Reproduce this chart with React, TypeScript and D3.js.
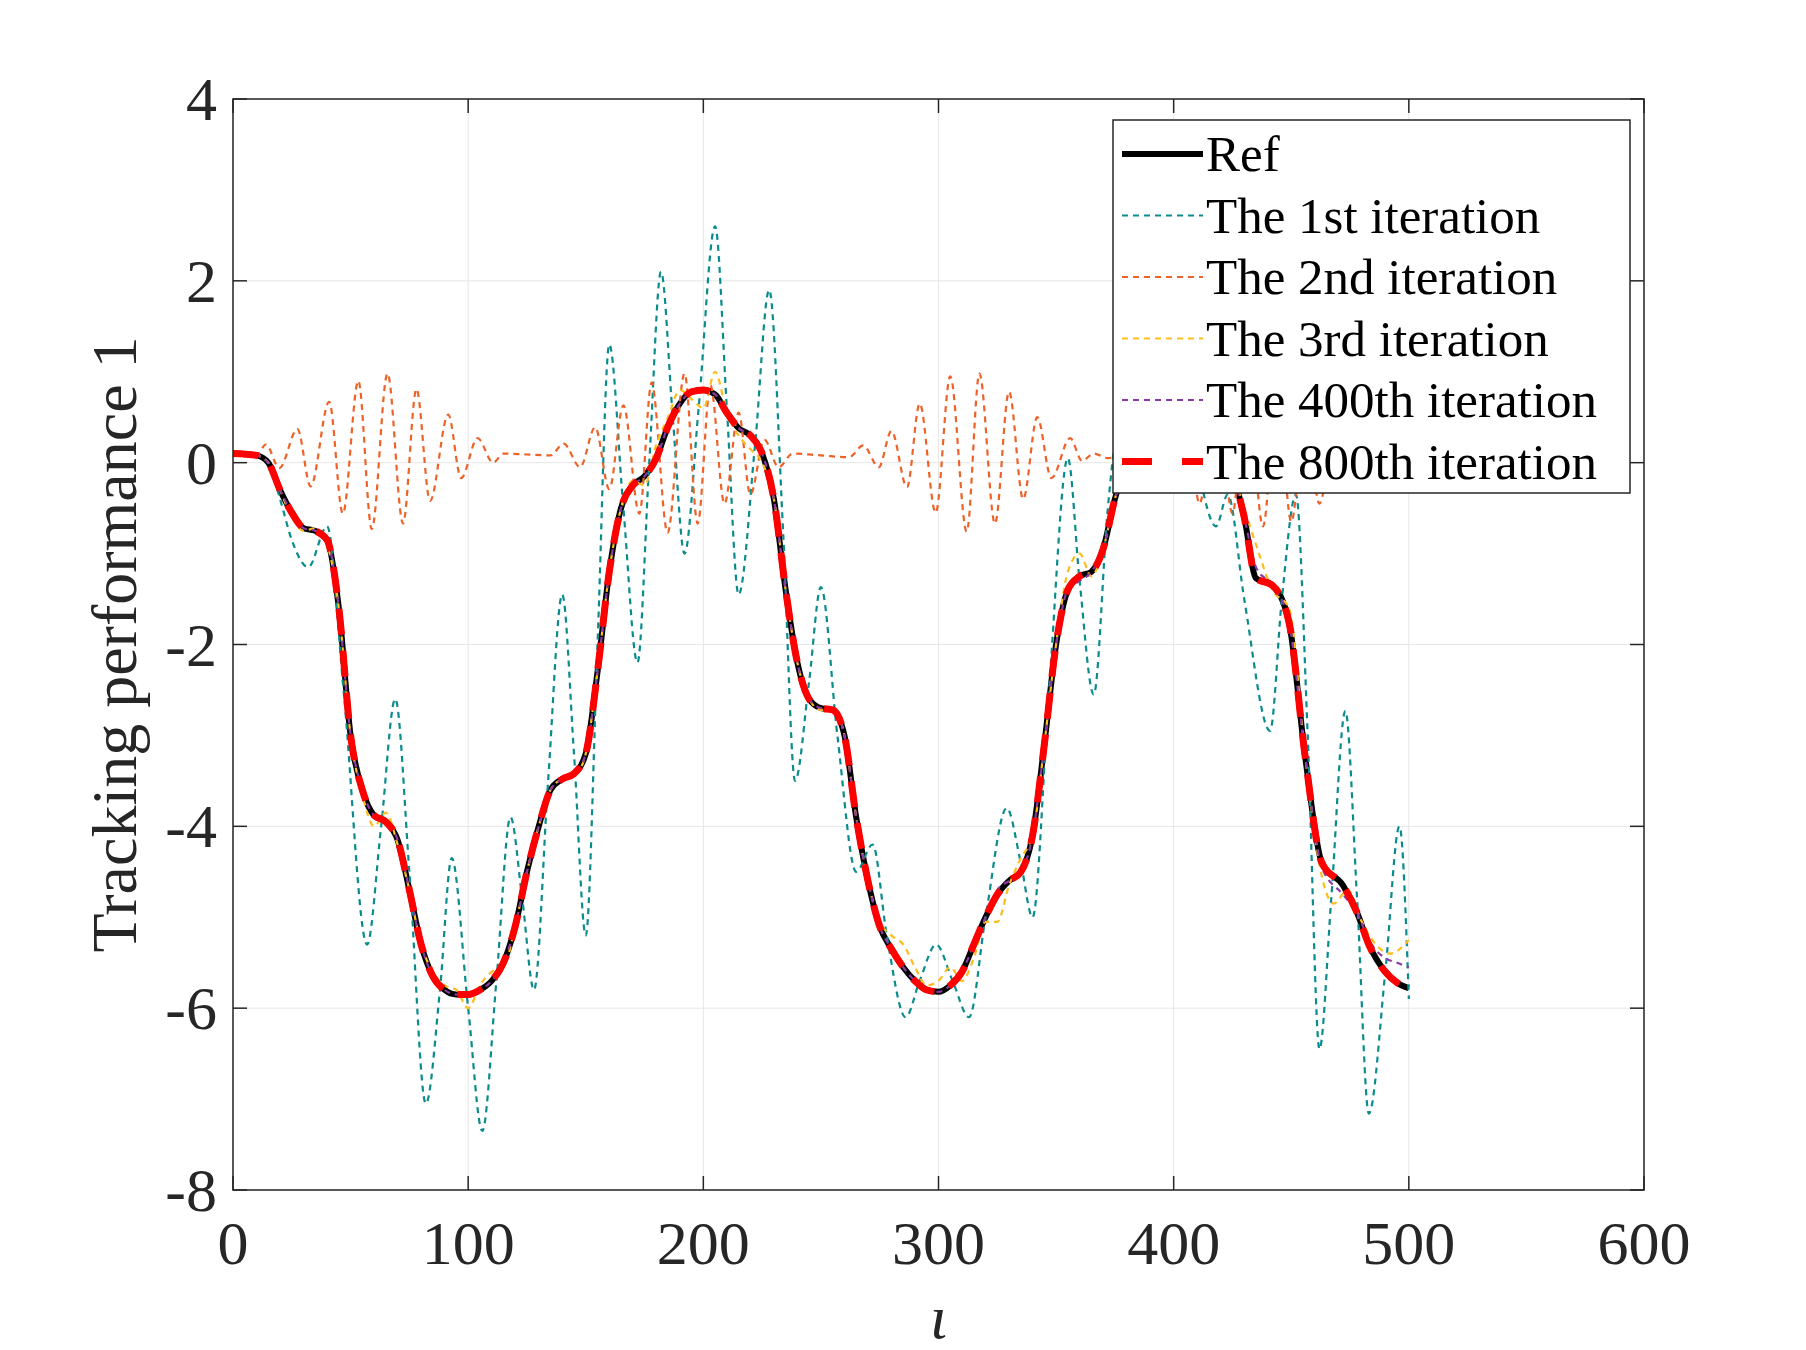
import React from "react";
import * as d3 from "d3";

type Pt = [number, number];

// reference trajectory
const refData: Pt[] = [
  [0, 0.1], [10, 0.08], [15, 0], [20, -0.3], [25, -0.55], [30, -0.72], [35, -0.75], [40, -0.85],
  [45, -1.6], [50, -3.0], [55, -3.6], [60, -3.88], [65, -3.95], [70, -4.15], [75, -4.7], [80, -5.3],
  [85, -5.65], [90, -5.8], [95, -5.85], [100, -5.85], [105, -5.8], [110, -5.7], [115, -5.5], [120, -5.1],
  [125, -4.5], [130, -4.0], [135, -3.6], [140, -3.48], [145, -3.42], [150, -3.2], [155, -2.3], [160, -1.2],
  [165, -0.5], [170, -0.25], [175, -0.15], [180, 0.05], [185, 0.4], [190, 0.65], [195, 0.78], [200, 0.8],
  [205, 0.75], [210, 0.55], [215, 0.38], [220, 0.3], [225, 0.1], [230, -0.4], [235, -1.4], [240, -2.2],
  [245, -2.6], [250, -2.7], [255, -2.72], [260, -3.0], [265, -3.9], [270, -4.6], [275, -5.1], [280, -5.35],
  [285, -5.55], [290, -5.7], [295, -5.8], [300, -5.82], [305, -5.75], [310, -5.6], [315, -5.3], [320, -5.0],
  [325, -4.75], [330, -4.6], [335, -4.5], [340, -4.1], [345, -3.1], [350, -2.0], [355, -1.4], [360, -1.25],
  [365, -1.2], [370, -0.95], [375, -0.4], [380, 0.0], [385, 0.4], [390, 0.65], [395, 0.78], [400, 0.8],
  [405, 0.75], [410, 0.55], [415, 0.38], [420, 0.3], [425, -0.1], [430, -0.6], [435, -1.27], [442, -1.35],
  [449, -1.75], [456, -3.25], [463, -4.4], [472, -4.65], [478, -4.95], [483, -5.3], [490, -5.6], [495, -5.72],
  [500, -5.78],
];

// 1st iteration
const iter1Data: Pt[] = [
  [0, 0.1], [10, 0.08], [15, 0], [20, -0.4], [25, -0.85], [32, -1.15], [40, -0.7], [47, -2.5],
  [57, -5.3], [63, -4.0], [69, -2.6], [75, -4.5], [82, -7.05], [88, -5.8], [93, -4.35], [100, -6.0],
  [106, -7.35], [112, -5.7], [118, -3.9], [123, -4.8], [128, -5.8], [134, -3.5], [140, -1.45], [145, -3.2],
  [150, -5.2], [155, -2.0], [160, 1.3], [166, -0.5], [172, -2.2], [177, 0.0], [182, 2.1], [187, 0.5],
  [192, -1.0], [198, 0.6], [205, 2.6], [210, 0.6], [215, -1.45], [222, 0.2], [228, 1.9], [234, -0.8],
  [239, -3.5], [245, -2.4], [250, -1.37], [257, -3.0], [265, -4.5], [272, -4.2], [278, -5.2], [286, -6.1],
  [292, -5.7], [299, -5.3], [306, -5.7], [313, -6.1], [320, -5.0], [329, -3.8], [335, -4.4], [340, -5.0],
  [347, -2.5], [355, 0.05], [360, -1.3], [366, -2.55], [372, -0.5], [380, 0.9], [387, 0.3], [393, -0.3],
  [400, 1.0], [408, 0.2], [418, -0.7], [423, -0.35], [430, -1.5], [441, -2.95], [446, -1.5], [452, -0.35],
  [457, -3.0], [462, -6.45], [467, -4.8], [473, -2.73], [478, -4.8], [483, -7.16], [490, -5.6], [496, -4.0],
  [500, -5.9],
];

// 2nd iteration
const iter2Data: Pt[] = [
  [0, 0.1], [10, 0.08], [14, 0.2], [19.7, -0.06], [27.4, 0.37], [33, -0.26], [40.9, 0.67], [46.7, -0.56],
  [53.3, 0.9], [59, -0.73], [65.7, 0.98], [72.3, -0.67], [78, 0.81], [83.8, -0.42], [91.5, 0.53], [97, -0.17],
  [104, 0.27], [110.6, 0.0], [115, 0.1], [125, 0.09], [135, 0.08], [140.6, 0.21], [147.6, -0.05], [154, 0.39],
  [160, -0.29], [166, 0.63], [172.8, -0.56], [178, 0.88], [184.8, -0.77], [192, 0.98], [197.6, -0.67],
  [203, 0.85], [209, -0.45], [215, 0.55], [220, -0.35], [226, 0.25], [232, -0.05], [238, 0.1], [250, 0.08],
  [262, 0.06], [268, 0.19], [274.6, -0.05], [280, 0.35], [286.6, -0.27], [292, 0.65], [298.8, -0.55],
  [305, 0.95], [312, -0.76], [317.4, 0.98], [324, -0.67], [330, 0.78], [336, -0.4], [342, 0.5], [348, -0.17],
  [356, 0.27], [361, 0.02], [366, 0.1], [372, 0.05], [380, 0.1], [386, -0.1], [392, 0.3], [398, -0.2],
  [405, 0.6], [411, -0.45], [418, 0.85], [425, -0.56], [431, 0.9], [438, -0.7], [444, 0.8], [450, -0.65],
  [456, 0.5], [462, -0.45], [468, 0.25], [474, 0.0], [480, 0.1], [500, 0.1],
];

// 3rd iteration
const iter3Data: Pt[] = [
  [0, 0.1], [10, 0.08], [15, 0], [20, -0.3], [25, -0.6], [30, -0.75], [35, -0.72], [40, -0.9],
  [45, -1.6], [50, -3.0], [55, -3.65], [60, -4.0], [65, -3.85], [70, -4.2], [75, -4.7], [80, -5.3],
  [85, -5.6], [90, -5.75], [95, -5.8], [100, -6.0], [105, -5.75], [110, -5.6], [115, -5.55], [120, -5.1],
  [125, -4.5], [130, -4.0], [135, -3.6], [140, -3.48], [145, -3.45], [150, -3.2], [155, -2.3], [160, -1.2],
  [165, -0.5], [170, -0.2], [175, -0.25], [180, 0.2], [185, 0.5], [190, 0.8], [195, 0.7], [200, 0.6],
  [205, 1.0], [210, 0.55], [215, 0.3], [220, 0.15], [225, 0.0], [230, -0.4], [235, -1.4], [240, -2.2],
  [245, -2.6], [250, -2.72], [255, -2.7], [260, -3.0], [265, -3.9], [270, -4.6], [275, -5.05], [280, -5.2],
  [285, -5.3], [290, -5.55], [295, -5.75], [300, -5.7], [305, -5.55], [310, -5.7], [315, -5.45], [320, -5.05],
  [325, -5.05], [330, -4.65], [335, -4.35], [340, -4.1], [345, -3.1], [350, -2.0], [355, -1.2], [360, -1.0],
  [365, -1.25], [370, -0.95], [375, -0.4], [380, 0.0], [385, 0.4], [390, 0.65], [395, 0.78], [400, 0.8],
  [405, 0.75], [410, 0.55], [415, 0.38], [420, 0.2], [425, -0.1], [430, -0.5], [435, -0.9], [442, -1.4],
  [449, -1.6], [456, -3.25], [463, -4.55], [468, -4.85], [474, -4.7], [480, -5.05], [486, -5.3], [492, -5.4],
  [500, -5.25],
];

// 400th iteration
const iter400Data: Pt[] = [
  [0, 0.1], [10, 0.08], [15, 0], [20, -0.3], [25, -0.55], [30, -0.72], [35, -0.75], [40, -0.85],
  [45, -1.6], [50, -3.0], [55, -3.6], [60, -3.88], [65, -3.95], [70, -4.15], [75, -4.7], [80, -5.3],
  [85, -5.65], [90, -5.8], [95, -5.85], [100, -5.85], [105, -5.8], [110, -5.7], [115, -5.5], [120, -5.1],
  [125, -4.5], [130, -4.0], [135, -3.6], [140, -3.48], [145, -3.42], [150, -3.2], [155, -2.3], [160, -1.2],
  [165, -0.5], [170, -0.25], [175, -0.15], [180, 0.05], [185, 0.4], [190, 0.65], [195, 0.78], [200, 0.8],
  [205, 0.75], [210, 0.55], [215, 0.38], [220, 0.3], [225, 0.1], [230, -0.4], [235, -1.4], [240, -2.2],
  [245, -2.6], [250, -2.7], [255, -2.72], [260, -3.0], [265, -3.9], [270, -4.6], [275, -5.1], [280, -5.35],
  [285, -5.55], [290, -5.7], [295, -5.8], [300, -5.82], [305, -5.75], [310, -5.6], [315, -5.3], [320, -5.0],
  [325, -4.7], [330, -4.6], [335, -4.5], [340, -4.1], [345, -3.1], [350, -2.0], [355, -1.4], [360, -1.3],
  [365, -1.2], [370, -0.95], [375, -0.4], [380, 0.0], [385, 0.4], [390, 0.65], [395, 0.78], [400, 0.8],
  [405, 0.75], [410, 0.55], [415, 0.38], [420, 0.3], [425, -0.1], [430, -0.6], [435, -1.15], [442, -1.35],
  [449, -1.75], [456, -3.25], [463, -4.45], [472, -4.75], [478, -4.95], [483, -5.25], [490, -5.45], [495, -5.5],
  [500, -5.55],
];

// 800th iteration
const iter800Data: Pt[] = refData;

const xTicks = [0, 100, 200, 300, 400, 500, 600];
const yTicks = [-8, -6, -4, -2, 0, 2, 4];

const series = [
  { label: "Ref", data: refData, color: "#000000", width: 6, dash: "" },
  { label: "The 1st iteration", data: iter1Data, color: "#0a8c8c", width: 2.2, dash: "6,5" },
  { label: "The 2nd iteration", data: iter2Data, color: "#ee6127", width: 2.2, dash: "6,5" },
  { label: "The 3rd iteration", data: iter3Data, color: "#fdbd1c", width: 2.2, dash: "6,5" },
  { label: "The 400th iteration", data: iter400Data, color: "#8b3aa5", width: 2.2, dash: "6,5" },
  { label: "The 800th iteration", data: iter800Data, color: "#ff0000", width: 7, dash: "26,16" },
];

const W = 1806;
const H = 1350;
const margin = { left: 233, right: 162, top: 99, bottom: 160 };
const font = "'Liberation Serif', 'Times New Roman', serif";

export default function App() {
  const x = d3.scaleLinear().domain([0, 600]).range([margin.left, W - margin.right]);
  const y = d3.scaleLinear().domain([-8, 4]).range([H - margin.bottom, margin.top]);
  const line = d3
    .line<Pt>()
    .x((d) => x(d[0]))
    .y((d) => y(d[1]))
    .curve(d3.curveMonotoneX);

  const x0 = x(0), x1 = x(600), y0 = y(-8), y1 = y(4);
  const tick = 14;
  const axisColor = "#262626";

  const lg = { x: 1113, y: 120, w: 517, h: 373, row: 61.5 };

  return (
    <svg width={W} height={H} style={{ position: "absolute", left: 0, top: 0, background: "#fff" }}>
      {/* grid */}
      {xTicks.map((t) => (
        <line key={"gx" + t} x1={x(t)} x2={x(t)} y1={y0} y2={y1} stroke="#e6e6e6" strokeWidth={1} />
      ))}
      {yTicks.map((t) => (
        <line key={"gy" + t} x1={x0} x2={x1} y1={y(t)} y2={y(t)} stroke="#e6e6e6" strokeWidth={1} />
      ))}

      {/* series */}
      {series.map((s) => (
        <path
          key={s.label}
          d={line(s.data) ?? ""}
          fill="none"
          stroke={s.color}
          strokeWidth={s.width}
          strokeDasharray={s.dash || undefined}
          strokeLinejoin="round"
        />
      ))}

      {/* box + ticks */}
      <rect x={x0} y={y1} width={x1 - x0} height={y0 - y1} fill="none" stroke={axisColor} strokeWidth={1.5} />
      {xTicks.map((t) => (
        <g key={"tx" + t}>
          <line x1={x(t)} x2={x(t)} y1={y0} y2={y0 - tick} stroke={axisColor} strokeWidth={1.5} />
          <line x1={x(t)} x2={x(t)} y1={y1} y2={y1 + tick} stroke={axisColor} strokeWidth={1.5} />
          <text x={x(t)} y={y0 + 74} textAnchor="middle" fontFamily={font} fontSize={62} fill={axisColor}>
            {t}
          </text>
        </g>
      ))}
      {yTicks.map((t) => (
        <g key={"ty" + t}>
          <line x1={x0} x2={x0 + tick} y1={y(t)} y2={y(t)} stroke={axisColor} strokeWidth={1.5} />
          <line x1={x1} x2={x1 - tick} y1={y(t)} y2={y(t)} stroke={axisColor} strokeWidth={1.5} />
          <text x={x0 - 16} y={y(t) + 21} textAnchor="end" fontFamily={font} fontSize={62} fill={axisColor}>
            {t}
          </text>
        </g>
      ))}

      {/* axis labels */}
      <text x={(x0 + x1) / 2} y={1338} textAnchor="middle" fontFamily={font} fontStyle="italic" fontSize={62} fill={axisColor}>
        ι
      </text>
      <text
        transform={`translate(136,${(y0 + y1) / 2}) rotate(-90)`}
        textAnchor="middle"
        fontFamily={font}
        fontSize={64}
        fill={axisColor}
      >
        Tracking performance 1
      </text>

      {/* legend */}
      <rect x={lg.x} y={lg.y} width={lg.w} height={lg.h} fill="#fff" stroke={axisColor} strokeWidth={1.5} />
      {series.map((s, i) => {
        const cy = lg.y + 34 + i * lg.row;
        return (
          <g key={"lg" + s.label}>
            <line
              x1={lg.x + 9}
              x2={lg.x + 90}
              y1={cy}
              y2={cy}
              stroke={s.color}
              strokeWidth={s.width}
              strokeDasharray={s.label === "The 800th iteration" ? "30,30" : s.dash || undefined}
            />
            <text x={lg.x + 93} y={cy + 17} fontFamily={font} fontSize={51} fill="#000">
              {s.label}
            </text>
          </g>
        );
      })}
    </svg>
  );
}
